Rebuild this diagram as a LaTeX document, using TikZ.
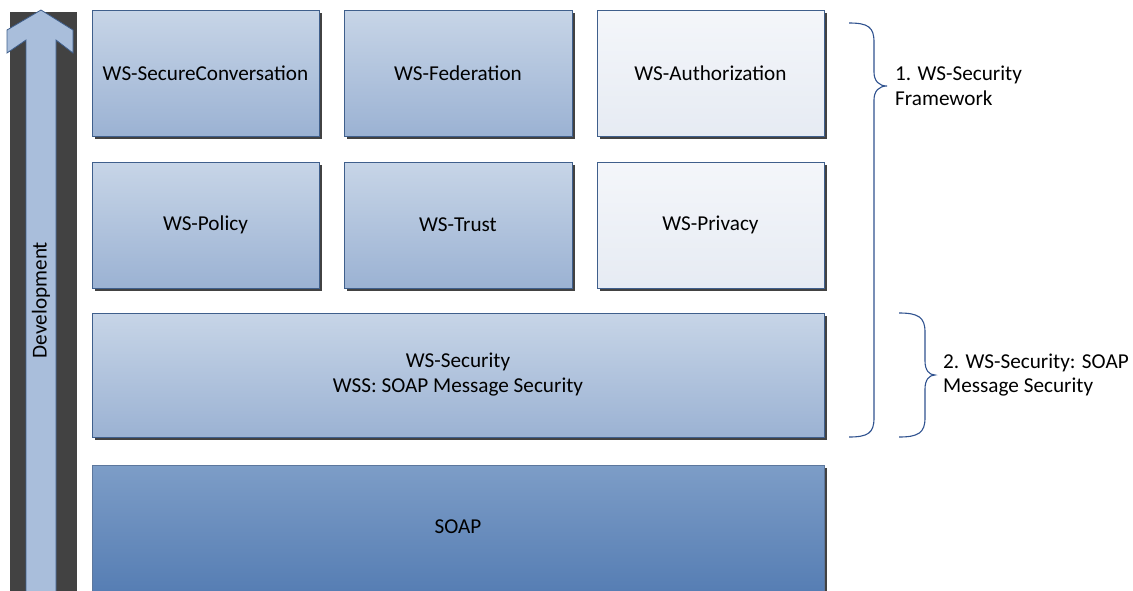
\documentclass[tikz,border=0pt]{standalone}
\usepackage{fontspec}
\setmainfont{Carlito}
\usetikzlibrary{shadows}
\definecolor{boxtop}{HTML}{C7D5E7}
\definecolor{boxbot}{HTML}{9BB2D3}
\definecolor{lighttop}{HTML}{F4F6FA}
\definecolor{lightbot}{HTML}{E6EBF3}
\definecolor{soaptop}{HTML}{7D9DC7}
\definecolor{soapbot}{HTML}{4F78B0}
\definecolor{edge}{HTML}{3F5F8C}
\definecolor{bracecol}{HTML}{2F528F}
\definecolor{barcol}{HTML}{424242}
\definecolor{arrowfill}{HTML}{A9BEDB}
\tikzset{
  layer/.style={draw=edge, line width=0.9pt, anchor=north west, outer sep=0pt, inner sep=0pt,
    top color=boxtop, bottom color=boxbot, align=center,
    font=\fontsize{21.2}{25}\selectfont,
    drop shadow={shadow xshift=3pt, shadow yshift=-3pt, fill=barcol, opacity=1}},
  lightlayer/.style={layer, top color=lighttop, bottom color=lightbot},
  soaplayer/.style={layer, top color=soaptop, bottom color=soapbot, draw=edge!85!white},
  bracket/.style={draw=bracecol, line width=1.1pt},
  note/.style={anchor=west, align=left, inner sep=0pt, font=\fontsize{21.2}{24.5}\selectfont}
}
\begin{document}
\begin{tikzpicture}[x=1pt,y=-1pt]
\useasboundingbox (0,0) rectangle (1133,590);
\clip (0,0) rectangle (1133,590);
% development bar and arrow
\fill[barcol] (10,12) rectangle (77,600);
\draw[draw=edge, line width=0.8pt, fill=arrowfill]
  (41,10) -- (73,30) -- (73,53) -- (56,40) -- (56,600) -- (26,600) -- (26,40) -- (7,53) -- (7,30) -- cycle;
\node[rotate=90, font=\fontsize{21.2}{25}\selectfont] (dev) at (41,300) {Development};
% layers
\node[layer, minimum width=227pt, minimum height=126pt] (sc) at (92,10) {WS-SecureConversation};
\node[layer, minimum width=228pt, minimum height=126pt] (fed) at (344,10) {WS-Federation};
\node[lightlayer, minimum width=227pt, minimum height=126pt] (auth) at (597,10) {WS-Authorization};
\node[layer, minimum width=227pt, minimum height=126pt] (pol) at (92,162) {WS-Policy};
\node[layer, minimum width=228pt, minimum height=126pt] (trust) at (344,162) {WS-Trust};
\node[lightlayer, minimum width=227pt, minimum height=126pt] (priv) at (597,162) {WS-Privacy};
\node[layer, minimum width=732pt, minimum height=124pt] (wss) at (92,313) {WS-Security\\WSS: SOAP Message Security};
\node[soaplayer, minimum width=732pt, minimum height=150pt] (soap) at (92,465) {};
\node (soaptext) at (458,527) [font=\fontsize{21.2}{25}\selectfont] {SOAP};
% braces
\coordinate (b1tip) at (887,86);
\coordinate (b2tip) at (935,375);
\draw[bracket] (849,23) .. controls (868,23) and (874,27) .. (874,42) -- (874,72)
  .. controls (874,81) and (879,86) .. (b1tip)
  .. controls (879,86) and (874,91) .. (874,100) -- (874,418)
  .. controls (874,433) and (868,437) .. (849,437);
\draw[bracket] (899,313) .. controls (918,313) and (925,317) .. (925,332) -- (925,361)
  .. controls (925,370) and (929,375) .. (b2tip)
  .. controls (929,375) and (925,380) .. (925,389) -- (925,418)
  .. controls (925,433) and (918,437) .. (899,437);
\node[note] (lab1) at (895,86) {1. WS-Security\\Framework};
\node[note] (lab2) at (943,375) {2. WS-Security: SOAP\\Message Security};
\end{tikzpicture}
\end{document}
